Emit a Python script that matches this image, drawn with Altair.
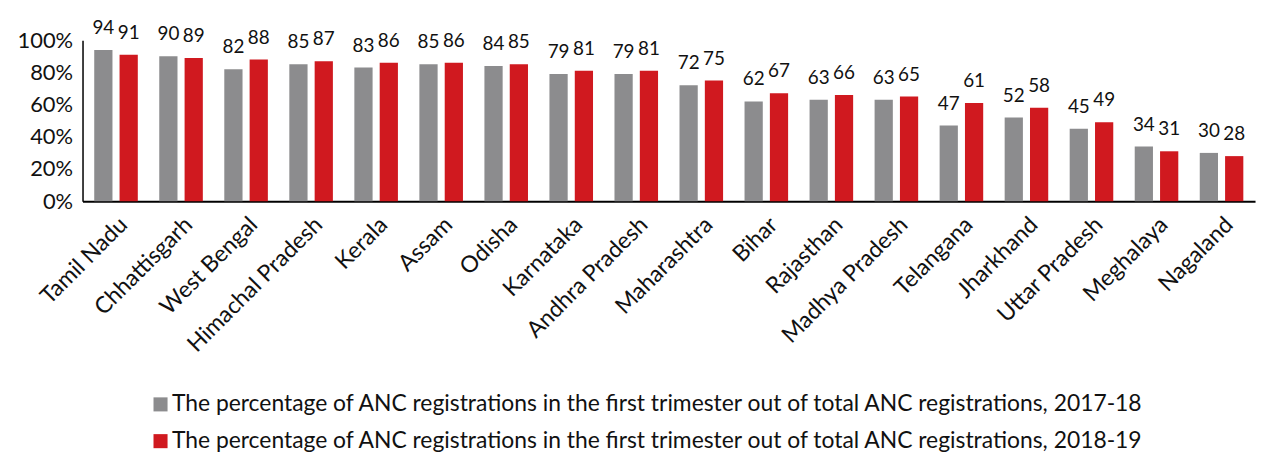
import altair as alt
import pandas as pd

states = ["Tamil Nadu", "Chhattisgarh", "West Bengal", "Himachal  Pradesh", "Kerala", "Assam",
          "Odisha", "Karnataka", "Andhra Pradesh", "Maharashtra", "Bihar", "Rajasthan",
          "Madhya Pradesh", "Telangana", "Jharkhand", "Uttar Pradesh", "Meghalaya", "Nagaland"]
v2017 = [94, 90, 82, 85, 83, 85, 84, 79, 79, 72, 62, 63, 63, 47, 52, 45, 34, 30]
v2018 = [91, 89, 88, 87, 86, 86, 85, 81, 81, 75, 67, 66, 65, 61, 58, 49, 31, 28]
series = ["The percentage of ANC registrations in the first trimester out of total ANC registrations, 2017-18",
          "The percentage of ANC registrations in the first trimester out of total ANC registrations, 2018-19"]
colors = ["#8c8c8e", "#d0191f"]

rows = []
for i, s in enumerate(states):
    rows.append({"state": s, "series": series[0], "value": v2017[i]})
    rows.append({"state": s, "series": series[1], "value": v2018[i]})
df = pd.DataFrame(rows)

FONT = "Lato"

x = alt.X("state:N", sort=states, title=None,
          scale=alt.Scale(paddingInner=0.33, paddingOuter=0.18),
          axis=alt.Axis(labelAngle=-45, labelFontSize=23, labelColor="#111", labelFont=FONT,
                        domainColor="#000", domainWidth=2, ticks=False, labelPadding=12,
                        labelOverlap=False, labelLimit=300))
xo = alt.XOffset("series:N", sort=series, scale=alt.Scale(paddingInner=0.28, paddingOuter=0))
y = alt.Y("value:Q", title=None, scale=alt.Scale(domain=[0, 100]),
          axis=alt.Axis(values=[0, 20, 40, 60, 80, 100], labelExpr="datum.value + '%'",
                        labelFontSize=22, labelColor="#111", labelFont=FONT, grid=False,
                        labelOverlap=False, labelBound=False, ticks=False, domainColor="#000",
                        domainWidth=1.5, labelPadding=10))

bars = alt.Chart(df).mark_bar().encode(
    x=x, xOffset=xo, y=y,
    color=alt.Color("series:N", sort=series, scale=alt.Scale(domain=series, range=colors),
                    legend=alt.Legend(title=None, orient="none", legendX=67, legendY=355,
                                      direction="vertical", symbolType="square", symbolSize=200,
                                      labelFontSize=23, labelFont=FONT, labelColor="#111",
                                      rowPadding=13, labelLimit=1100, symbolStrokeWidth=0,
                                      labelOffset=0))
)

labels = alt.Chart(df).mark_text(baseline="alphabetic", dy=-16, fontSize=19, font=FONT,
                                 color="#111").encode(
    x=x, xOffset=xo, y=y, text="value:Q"
)

chart = (bars + labels).properties(
    width=1180, height=162,
    autosize=alt.AutoSizeParams(type="none"),
    padding={"left": 75, "top": 31, "right": 5, "bottom": 253}
).configure_view(stroke=None)

chart.save("out.html", embed_options={"renderer": "svg", "actions": False})
